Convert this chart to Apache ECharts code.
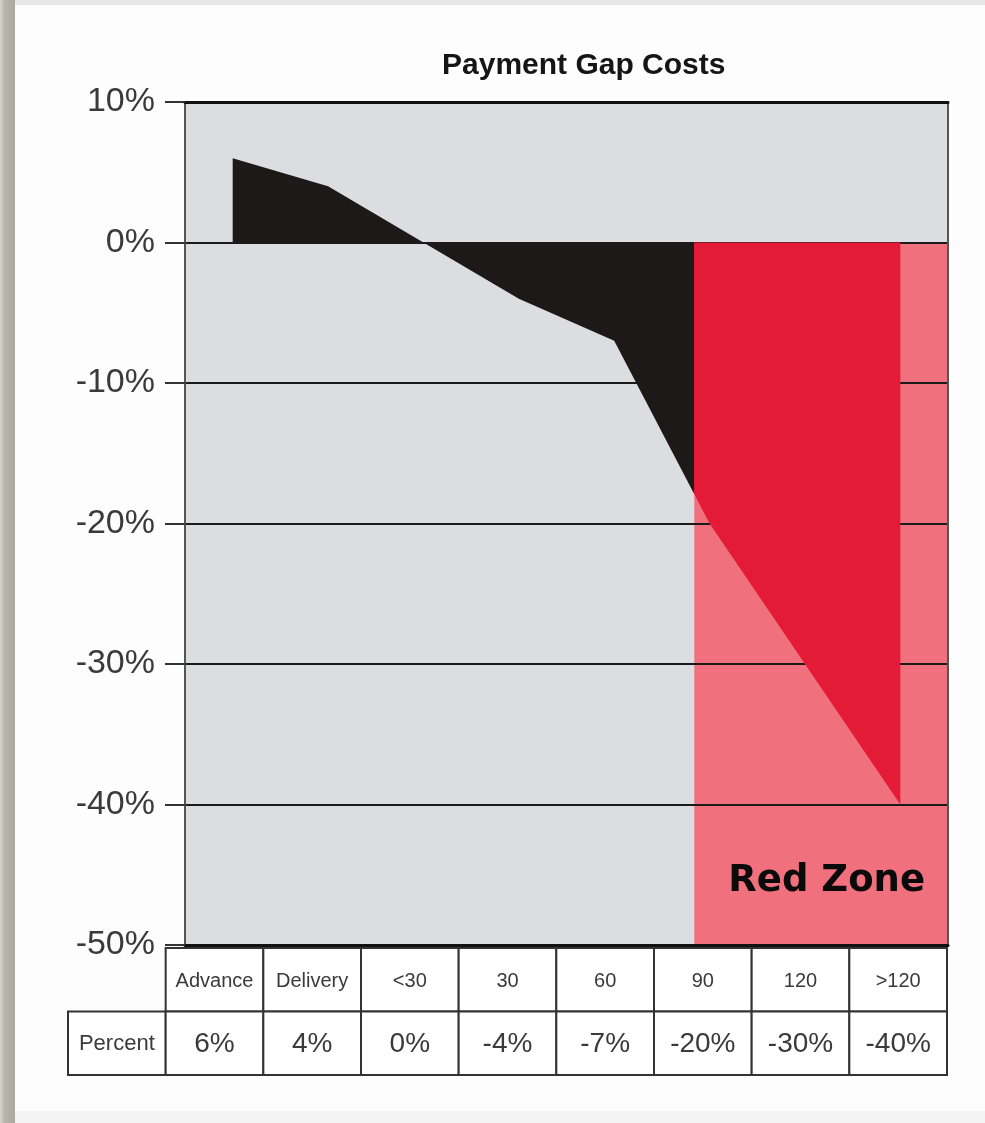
<!DOCTYPE html>
<html>
<head>
<meta charset="utf-8">
<script src="https://cdn.jsdelivr.net/npm/echarts@6/dist/echarts.min.js"></script>
<style>
html,body{margin:0;padding:0;background:#fdfdfd;}
#chart{width:985px;height:1123px;}
</style>
</head>
<body>
<div id="chart"></div>
<script>
// ---- data ----
const titleText = 'Payment Gap Costs';
const categories = ['Advance', 'Delivery', '<30', '30', '60', '90', '120', '>120'];
const percentValues = [6, 4, 0, -4, -7, -20, -30, -40];
const rowLabel = 'Percent';
const yTicks = [10, 0, -10, -20, -30, -40, -50];
const redZoneStart = 4.84;   // x position (category units) where the red zone begins
const redZoneLabel = 'Red Zone';

// ---- derived ----
const seriesData = categories.map((c, i) => [i, percentValues[i]]);
const tableCells = [];
categories.forEach((c, i) => tableCells.push({ col: i + 1, row: 0, text: c }));
tableCells.push({ col: 0, row: 1, text: rowLabel });
percentValues.forEach((v, i) => tableCells.push({ col: i + 1, row: 1, text: v + '%' }));

const NARROW = "'Liberation Sans Narrow', 'Liberation Sans', Arial, sans-serif";
const BLACK = '#1d1919', RED = '#e41b36', PINK = '#f0707e';
const chart = echarts.init(document.getElementById('chart'), null, { renderer: 'canvas' });

const option = {
  backgroundColor: '#fdfdfd',
  animation: false,
  title: {
    text: titleText,
    left: 437, top: 46,
    textStyle: { fontFamily: NARROW, fontSize: 30, fontWeight: 'bold', color: '#151515' }
  },
  graphic: [
    { type: 'rect', left: 0, top: 0, z: -10, silent: true, shape: { width: 15, height: 1123 },
      style: { fill: new echarts.graphic.LinearGradient(0, 0, 1, 0, [{ offset: 0, color: '#d8d8d2' }, { offset: 0.3, color: '#b6b6aa' }, { offset: 1, color: '#a9a99d' }]) } },
    { type: 'rect', left: 15, top: 0, z: -10, silent: true, shape: { width: 970, height: 5 }, style: { fill: '#e6e6e4' } },
    { type: 'rect', left: 15, top: 1111, z: -10, silent: true, shape: { width: 970, height: 12 }, style: { fill: '#f3f3f3' } }
  ],
  grid: [
    { left: 185, top: 102, width: 763, height: 843, show: true, backgroundColor: '#dcdde0', borderWidth: 0, z: 0 },
    { left: 68, top: 948, width: 879, height: 127, show: false }
  ],
  xAxis: [
    { type: 'value', gridIndex: 0, min: -0.5, max: 7.5, position: 'bottom', z: 2,
      axisLine: { show: true, onZero: false, lineStyle: { color: '#111', width: 3 } },
      axisTick: { show: false }, axisLabel: { show: false }, splitLine: { show: false } },
    { type: 'value', gridIndex: 0, min: -0.5, max: 7.5, position: 'top', z: 2,
      axisLine: { show: true, onZero: false, lineStyle: { color: '#111', width: 3 } },
      axisTick: { show: false }, axisLabel: { show: false }, splitLine: { show: false } },
    { type: 'value', gridIndex: 1, min: -0.5, max: 8.5, show: false }
  ],
  yAxis: [
    { type: 'value', gridIndex: 0, min: -50, max: 10, interval: 10, z: 2,
      axisLine: { show: true, onZero: false, lineStyle: { color: '#555', width: 2 } },
      axisTick: { show: true, length: 20, lineStyle: { color: '#333', width: 2 } },
      axisLabel: { margin: 30, fontFamily: NARROW, fontSize: 34, color: '#3a3a3a',
        formatter: v => (yTicks.indexOf(v) >= 0 ? v + '%' : '') },
      splitLine: { show: true, lineStyle: { color: '#1a1a1a', width: 2 } } },
    { type: 'value', gridIndex: 0, min: -50, max: 10, position: 'right', z: 2,
      axisLine: { show: true, onZero: false, lineStyle: { color: '#555', width: 2 } },
      axisTick: { show: false }, axisLabel: { show: false }, splitLine: { show: false } },
    { type: 'value', gridIndex: 1, min: -0.5, max: 1.5, inverse: true, show: false }
  ],
  series: [
    { // red zone background (below grid lines)
      type: 'line', xAxisIndex: 0, yAxisIndex: 0, data: [], z: 1, silent: true,
      markArea: {
        silent: true,
        itemStyle: { color: PINK, opacity: 1 },
        label: {
          show: true, position: 'insideBottomRight', offset: [-18, -40],
          fontFamily: "'DejaVu Sans', sans-serif", fontSize: 37, fontWeight: 900, color: '#0a0a0a'
        },
        data: [[{ name: redZoneLabel, xAxis: redZoneStart, yAxis: 0 }, { xAxis: 7.5, yAxis: -50 }]]
      }
    },
    { // payment gap area
      type: 'line', xAxisIndex: 0, yAxisIndex: 0, z: 3,
      data: seriesData,
      symbol: 'none',
      lineStyle: { width: 0 },
      areaStyle: { opacity: 1, color: BLACK }
    }
  ]
};
const tableSeries = {
  type: 'custom', xAxisIndex: 2, yAxisIndex: 2, z: 4,
  data: tableCells.map(c => [c.col, c.row]),
  renderItem: function (params, api) {
    const col = api.value(0), row = api.value(1);
    const p0 = api.coord([col - 0.5, row - 0.5]);
    const p1 = api.coord([col + 0.5, row + 0.5]);
    const x = Math.min(p0[0], p1[0]), y = Math.min(p0[1], p1[1]);
    const w = Math.abs(p1[0] - p0[0]), h = Math.abs(p1[1] - p0[1]);
    const text = tableCells[params.dataIndex].text;
    const fs = row === 0 ? 20 : (col === 0 ? 22 : 28);
    return {
      type: 'group',
      children: [
        { type: 'rect', shape: { x: x, y: y, width: w, height: h }, style: { fill: '#fff', stroke: '#333', lineWidth: 2 } },
        { type: 'text', style: { text: text, x: x + w / 2, y: y + h / 2 + (row === 0 ? 2 : 1), align: 'center', verticalAlign: 'middle', fontSize: fs, fontFamily: NARROW, fill: '#3a3a3a' } }
      ]
    };
  }
};
try { chart.setOption(option); } catch (e) { console.log(e); }
try {
  const x0 = chart.convertToPixel({ xAxisIndex: 0 }, -0.5);
  const x1 = chart.convertToPixel({ xAxisIndex: 0 }, 7.5);
  const xs = chart.convertToPixel({ xAxisIndex: 0 }, redZoneStart);
  const f = (xs - x0) / (x1 - x0);
  chart.setOption({ series: [{}, { areaStyle: { color: new echarts.graphic.LinearGradient(x0, 0, x1, 0, [
    { offset: 0, color: BLACK }, { offset: f, color: BLACK }, { offset: f, color: RED }, { offset: 1, color: RED }], true) } }] });
} catch (e) { console.log(e); }
try { chart.setOption({ series: [{}, {}, tableSeries] }); } catch (e) { console.log(e); }
</script>
</body>
</html>
